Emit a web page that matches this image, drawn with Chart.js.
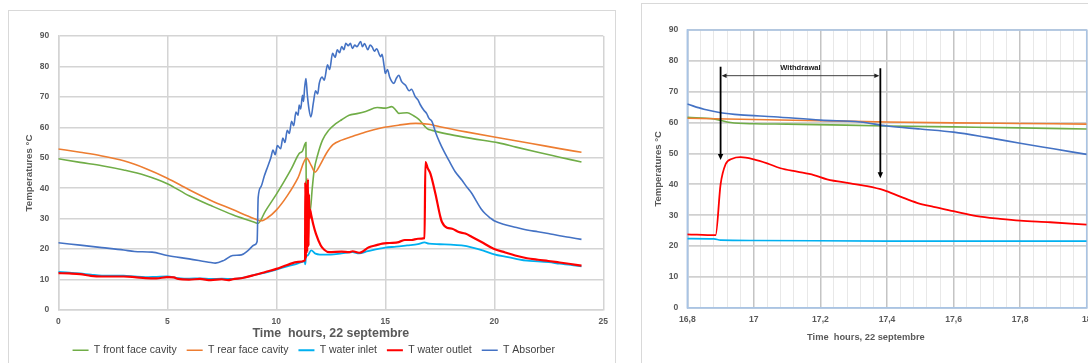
<!DOCTYPE html>
<html>
<head>
<meta charset="utf-8">
<script src="https://cdn.jsdelivr.net/npm/chart.js@4.4.1/dist/chart.umd.min.js"></script>
<style>
  html, body { margin: 0; padding: 0; background: #fff; overflow: hidden; }
  body { width: 1088px; height: 363px; position: relative; }
  .frame { position: absolute; border: 1px solid #d9d9d9; box-sizing: border-box; }
  canvas { position: absolute; }
</style>
</head>
<body>
<div class="frame" style="left:8px; top:10px; width:608px; height:380px;"></div>
<div class="frame" style="left:641px; top:3px; width:460px; height:380px;"></div>
<canvas id="dayChart" width="607" height="360" style="left:8px; top:10px;"></canvas>
<canvas id="zoomChart" width="450" height="360" style="left:641px; top:3px;"></canvas>
<script>
// ---- full day, 22 septembre (hours / °C) ----
const frontTime = [0, 1, 2, 3, 4, 5, 6, 7, 8, 9, 9.15, 9.5, 10, 10.3, 10.7, 11.05, 11.2, 11.36, 11.38, 11.55, 11.65, 11.74, 11.9, 12.12, 12.4, 12.73, 13, 13.34, 13.7, 14.1, 14.63, 15, 15.3, 15.5, 15.62, 16, 16.3, 16.54, 16.92, 17.15, 18, 19, 20.2, 21, 22, 23, 24];
const frontTemp = [49.7, 48.5, 47.4, 46, 44.2, 41.5, 37.5, 34.3, 31.3, 28.8, 28.4, 32.5, 38, 41.5, 46.5, 51.4, 52.2, 55, 33, 32.3, 40, 46, 51, 55.8, 59, 61.2, 62.5, 64, 64.5, 65.2, 66.5, 66.3, 66.8, 65.5, 64.6, 64.8, 63.8, 62.6, 59.6, 59, 57.6, 56.3, 54.9, 53.5, 51.8, 50.2, 48.6];

const rearTime = [0, 1, 2, 3, 4, 5, 6, 7, 8, 9, 9.3, 9.6, 10, 10.5, 11, 11.39, 11.6, 11.78, 12, 12.3, 12.6, 13, 13.4, 14.1, 14.8, 15.6, 16.4, 17, 17.5, 18.7, 20, 21.7, 23, 24];
const rearTemp = [52.9, 51.8, 50.6, 49, 46.5, 43.3, 39.5, 36, 33, 30, 29.3, 30.3, 32.8, 37.5, 43.5, 49.9, 47.5, 45.3, 47.5, 51.5, 54.3, 55.8, 56.8, 58.5, 59.8, 60.7, 61.3, 61, 60.2, 58.5, 56.8, 54.7, 53, 51.8];

const inletTime = [0, 0.5, 1, 1.5, 2, 3, 3.5, 4, 4.5, 5, 5.5, 6, 6.5, 7, 7.5, 8, 8.5, 9, 9.5, 10, 10.5, 11, 11.3, 11.33, 11.36, 11.45, 11.6, 11.8, 12, 12.5, 13, 13.5, 13.8, 14.2, 15, 15.5, 16, 16.5, 16.8, 17, 17.5, 18, 18.5, 19, 19.5, 20, 20.5, 21, 21.5, 22, 22.5, 23, 23.5, 24];
const inletTemp = [12.5, 12.3, 12, 11.6, 11.3, 11.3, 11, 10.8, 10.9, 11, 10.5, 10.3, 10.4, 10.2, 10.3, 10.2, 10.6, 11.5, 12.3, 13.3, 14.3, 15.3, 16, 15, 17.3, 18, 19.6, 18.5, 18.2, 18.2, 18.6, 19, 18.6, 19.3, 20.5, 20.8, 21.2, 21.6, 22.2, 21.8, 21.6, 21.5, 21.2, 20.5, 19.5, 18.3, 17.5, 16.8, 16.2, 16, 15.7, 15.2, 14.8, 14.3];

const outletTime = [0, 0.5, 1, 1.5, 2, 3, 3.5, 4, 4.5, 5, 5.3, 5.5, 6, 6.5, 7, 7.5, 7.8, 8, 8.5, 9, 9.5, 10, 10.5, 11, 11.32, 11.33, 11.36, 11.39, 11.42, 11.45, 11.48, 11.5, 11.52, 11.55, 11.59, 11.7, 11.82, 12.04, 12.2, 12.42, 13, 13.34, 13.5, 13.8, 14.25, 14.6, 14.86, 15.2, 15.62, 15.9, 16.2, 16.5, 16.8, 16.84, 16.95, 17.07, 17.3, 17.53, 17.6, 17.83, 18.07, 18.37, 18.67, 18.98, 19.5, 19.97, 20.5, 20.96, 21.5, 22, 22.48, 23, 23.5, 24];
const outletTemp = [12.1, 12, 11.8, 11.2, 11, 11, 10.8, 10.5, 10.4, 10.8, 10.7, 10.2, 10, 10.2, 9.8, 10.1, 9.8, 10.1, 10.6, 11.5, 12.5, 13.5, 14.8, 15.8, 16.3, 42, 17, 41, 19, 43, 21, 38, 30, 33, 31.6, 28, 25, 21.2, 19.8, 19, 19.2, 19, 19.3, 18.8, 20.6, 21.3, 21.8, 22, 22.3, 23, 23, 23.4, 23.6, 48.6, 46.5, 44.8, 38.2, 30.5, 28.9, 27, 26.7, 25.6, 25.1, 24, 22, 20.1, 18.9, 17.9, 17, 16.5, 16.1, 15.6, 15.1, 14.6];

const absorberTime = [0, 1, 2, 3, 3.5, 4.3, 5, 6, 7, 7.2, 7.6, 8, 8.4, 8.7, 9, 9.12, 9.17, 9.3, 9.45, 9.6, 9.75, 9.85, 9.95, 10.05, 10.2, 10.3, 10.4, 10.5, 10.6, 10.7, 10.8, 10.9, 11, 11.05, 11.12, 11.2, 11.25, 11.3, 11.36, 11.42, 11.5, 11.59, 11.7, 11.8, 11.9, 11.97, 12.1, 12.2, 12.35, 12.45, 12.58, 12.7, 12.8, 12.9, 13, 13.1, 13.19, 13.3, 13.4, 13.49, 13.6, 13.7, 13.87, 13.95, 14.05, 14.2, 14.3, 14.4, 14.5, 14.6, 14.79, 14.85, 14.95, 15, 15.1, 15.2, 15.3, 15.4, 15.5, 15.62, 15.75, 15.93, 16.1, 16.2, 16.38, 16.5, 16.6, 16.77, 16.9, 17, 17.15, 17.3, 17.5, 17.7, 17.91, 18.2, 18.52, 18.75, 18.98, 19.2, 19.4, 19.59, 19.8, 19.97, 20.5, 20.96, 21.5, 22, 22.48, 23, 23.5, 24];
const absorberTemp = [22.1, 21.3, 20.5, 19.7, 19.2, 19, 17.9, 16.8, 15.6, 15.4, 16.3, 17.9, 18.1, 19.5, 21.4, 22.5, 37, 40.5, 44, 47, 50, 52.5, 51, 54, 53, 56.5, 55, 59, 58, 62, 60.5, 65, 64, 67.3, 66, 70.5, 68.5, 73, 76, 71, 66, 63.4, 68, 72, 71, 74.4, 76.5, 75.5, 80.5, 79, 84.3, 83, 85.5, 84.5, 86.5, 85.5, 87.6, 86.8, 87.6, 85.9, 87, 86.5, 88.2, 86.5, 87.5, 85.5, 87, 86.4, 85, 85.8, 83.2, 84, 80, 77.7, 79, 76.5, 75, 74.4, 76, 77.1, 75, 73.8, 72, 72.5, 70, 69, 67.5, 65.6, 64.5, 63, 61.8, 58.5, 55, 52, 49.2, 45.5, 42.6, 40.3, 38.2, 35.5, 33.2, 31.6, 30.3, 29.4, 28, 27.2, 26.3, 25.7, 25.1, 24.4, 23.8, 23.2];

// ---- zoom on the withdrawal (16,8 h - 18 h) ----
const zFrontTime = [16.8, 16.88, 16.93, 17, 17.1, 17.4, 17.6, 17.8, 18];
const zFrontTemp = [61.7, 61.2, 60, 59.6, 59.5, 58.9, 58.6, 58.3, 57.9];
const zRearTime = [16.8, 17, 17.2, 17.4, 17.6, 17.8, 18];
const zRearTemp = [61.4, 61, 60.6, 60.2, 59.9, 59.7, 59.5];
const zInletTime = [16.8, 16.88, 16.9, 17, 17.4, 18];
const zInletTemp = [22.4, 22.3, 21.9, 21.8, 21.6, 21.6];
const zOutletTime = [16.8, 16.885, 16.9, 16.915, 16.935, 16.96, 17, 17.04, 17.08, 17.13, 17.18, 17.22, 17.29, 17.34, 17.39, 17.44, 17.49, 17.54, 17.6, 17.67, 17.74, 17.8, 17.89, 18];
const zOutletTemp = [23.8, 23.5, 40, 46.5, 48.3, 48.8, 48.1, 46.8, 45.2, 44.1, 43, 41.6, 40.3, 39.4, 38.1, 36, 34, 32.7, 31.3, 29.7, 28.8, 28.2, 27.7, 26.9];
const zAbsorberTime = [16.8, 16.85, 16.9, 16.96, 17.06, 17.2, 17.32, 17.4, 17.5, 17.6, 17.7, 17.8, 17.9, 18];
const zAbsorberTemp = [66, 64.3, 63.2, 62.5, 61.9, 60.8, 60.2, 58.9, 57.9, 56.9, 55.2, 53.3, 51.5, 49.7];

// withdrawal markers (hours, °C)
const withdrawalTimes = [16.9, 17.38];
const withdrawalArrowTop = [78.1, 77.6];
const withdrawalArrowTip = [47.9, 42];
const withdrawalSpanLevel = 75.2;
const withdrawalLabel = 'Withdrawal';

const FONT = "'Liberation Sans', Arial, sans-serif";
const GREY = '#595959';

const pts = (xs, ys) => xs.map((x, i) => ({ x: x, y: ys[i] }));

function series(label, xs, ys, color, width, order) {
    return {
        label: label,
        data: pts(xs, ys),
        borderColor: color,
        backgroundColor: color,
        borderWidth: width,
        pointRadius: 0,
        fill: false,
        cubicInterpolationMode: 'monotone',
        order: order
    };
}

// left chart
new Chart(document.getElementById('dayChart'), {
    type: 'line',
    data: {
        datasets: [
            series('T front face cavity', frontTime, frontTemp, '#70ad47', 1.6, 5),
            series('T rear face cavity', rearTime, rearTemp, '#ed7d31', 1.6, 4),
            series('T water inlet', inletTime, inletTemp, '#00b0f0', 1.8, 3),
            series('T water outlet', outletTime, outletTemp, '#ff0000', 2.2, 2),
            series('T Absorber', absorberTime, absorberTemp, '#4472c4', 1.6, 1)
        ]
    },
    options: {
        responsive: false,
        animation: false,
        layout: { padding: { left: 16, right: 11.5, top: 26, bottom: 4.5 } },
        plugins: {
            tooltip: { enabled: false },
            legend: {
                position: 'bottom',
                labels: {
                    usePointStyle: true,
                    pointStyle: 'line',
                    pointStyleWidth: 16,
                    padding: 10,
                    color: '#404040',
                    font: { family: FONT, size: 10.5 },
                    sort: (a, b) => a.datasetIndex - b.datasetIndex
                }
            }
        },
        scales: {
            x: {
                type: 'linear',
                min: 0,
                max: 25,
                ticks: { stepSize: 5, padding: 7, maxRotation: 0, color: GREY, font: { family: FONT, size: 8.5, weight: 'bold' } },
                grid: { color: '#d4d4d4', lineWidth: 1.5, drawTicks: false },
                border: { color: '#d4d4d4', width: 1.5 },
                title: {
                    display: true,
                    text: 'Time  hours, 22 septembre',
                    color: GREY,
                    font: { family: FONT, size: 12.4, weight: 'bold' },
                    padding: { top: 0, bottom: -6 }
                },
                afterFit: s => { s.height = 25; }
            },
            y: {
                min: 0,
                max: 90,
                ticks: { stepSize: 10, padding: 9, color: GREY, font: { family: FONT, size: 8.5, weight: 'bold' } },
                grid: { color: '#d4d4d4', lineWidth: 1.5, drawTicks: false },
                border: { color: '#d4d4d4', width: 1.5 },
                title: {
                    display: true,
                    text: 'Temperatures °C',
                    color: GREY,
                    font: { family: FONT, size: 9.7, weight: 'bold' },
                    padding: { top: 0, bottom: 0 }
                },
                afterFit: s => { s.width = 34.3; }
            }
        }
    }
});

// right chart: plot frame and withdrawal arrows
const plotFrame = {
    id: 'plotFrame',
    beforeDatasetsDraw(chart) {
        const { ctx, chartArea: a } = chart;
        ctx.save();
        ctx.strokeStyle = '#a9c4e4';
        ctx.lineWidth = 1.5;
        ctx.strokeRect(a.left, a.top, a.right - a.left, a.bottom - a.top);
        ctx.restore();
    }
};

function arrowHead(ctx, x, y, dx, dy, size) {
    ctx.beginPath();
    ctx.moveTo(x, y);
    ctx.lineTo(x - dx * size - dy * size * 0.45, y - dy * size + dx * size * 0.45);
    ctx.lineTo(x - dx * size + dy * size * 0.45, y - dy * size - dx * size * 0.45);
    ctx.closePath();
    ctx.fill();
}

const withdrawalMarks = {
    id: 'withdrawalMarks',
    afterDatasetsDraw(chart) {
        const { ctx, scales: { x, y } } = chart;
        ctx.save();
        ctx.strokeStyle = '#000';
        ctx.fillStyle = '#000';
        ctx.lineWidth = 1.8;
        withdrawalTimes.forEach((t, i) => {
            const px = x.getPixelForValue(t);
            const top = y.getPixelForValue(withdrawalArrowTop[i]);
            const tip = y.getPixelForValue(withdrawalArrowTip[i]);
            ctx.beginPath();
            ctx.moveTo(px, top);
            ctx.lineTo(px, tip - 5);
            ctx.stroke();
            arrowHead(ctx, px, tip, 0, 1, 6);
        });
        // span arrow
        const x1 = x.getPixelForValue(withdrawalTimes[0]);
        const x2 = x.getPixelForValue(withdrawalTimes[1]);
        const ys = y.getPixelForValue(withdrawalSpanLevel);
        ctx.strokeStyle = '#404040';
        ctx.fillStyle = '#222';
        ctx.lineWidth = 1;
        ctx.beginPath();
        ctx.moveTo(x1 + 4, ys);
        ctx.lineTo(x2 - 4, ys);
        ctx.stroke();
        arrowHead(ctx, x1 + 1, ys, -1, 0, 5);
        arrowHead(ctx, x2 - 1, ys, 1, 0, 5);
        // label
        ctx.font = 'bold 7.6px ' + FONT;
        ctx.textAlign = 'center';
        ctx.textBaseline = 'middle';
        ctx.fillStyle = '#1a1a1a';
        ctx.fillText(withdrawalLabel, (x1 + x2) / 2, y.getPixelForValue(77.7));
        ctx.restore();
    }
};

new Chart(document.getElementById('zoomChart'), {
    type: 'line',
    data: {
        datasets: [
            series('T front face cavity', zFrontTime, zFrontTemp, '#70ad47', 1.6, 5),
            series('T rear face cavity', zRearTime, zRearTemp, '#ed7d31', 1.6, 4),
            series('T water inlet', zInletTime, zInletTemp, '#00b0f0', 1.6, 3),
            series('T water outlet', zOutletTime, zOutletTemp, '#ff0000', 1.8, 2),
            series('T Absorber', zAbsorberTime, zAbsorberTemp, '#4472c4', 1.6, 1)
        ]
    },
    plugins: [plotFrame, withdrawalMarks],
    options: {
        responsive: false,
        animation: false,
        layout: { padding: { left: 4, right: 4.3, top: 27, bottom: 20.1 } },
        plugins: {
            tooltip: { enabled: false },
            legend: { display: false },
            title: {
                display: true,
                position: 'bottom',
                text: 'Time  hours, 22 septembre',
                color: GREY,
                font: { family: FONT, size: 9.3, weight: 'bold' },
                padding: 0
            }
        },
        scales: {
            x: {
                type: 'linear',
                min: 16.8,
                max: 18,
                ticks: {
                    stepSize: 0.04,
                    autoSkip: false,
                    maxRotation: 0,
                    minRotation: 0,
                    padding: 7,
                    color: GREY,
                    font: { family: FONT, size: 8.6, weight: 'bold' },
                    callback: (v, i) => i % 5 === 0 ? String(Math.round(v * 10) / 10).replace('.', ',') : ''
                },
                grid: {
                    drawTicks: false,
                    color: c => c.index % 5 === 0 ? '#c4c4c4' : '#e8e8e8',
                    lineWidth: c => c.index % 5 === 0 ? 1.5 : 1
                },
                border: { color: '#a9c4e4', width: 1.5 },
                afterFit: s => { s.height = 24; s.paddingLeft = 0; s.paddingRight = 0; }
            },
            y: {
                min: 0,
                max: 90,
                ticks: { stepSize: 10, padding: 9, color: GREY, font: { family: FONT, size: 8.6, weight: 'bold' } },
                grid: { color: '#d0d0d0', lineWidth: 1.8, drawTicks: false },
                border: { color: '#a9c4e4', width: 1.5 },
                title: {
                    display: true,
                    text: 'Temperatures °C',
                    color: GREY,
                    font: { family: FONT, size: 9.5, weight: 'bold' },
                    padding: { top: 7.6, bottom: 0 }
                },
                afterFit: s => { s.width = 42.3; }
            }
        }
    }
});
</script>
</body>
</html>
